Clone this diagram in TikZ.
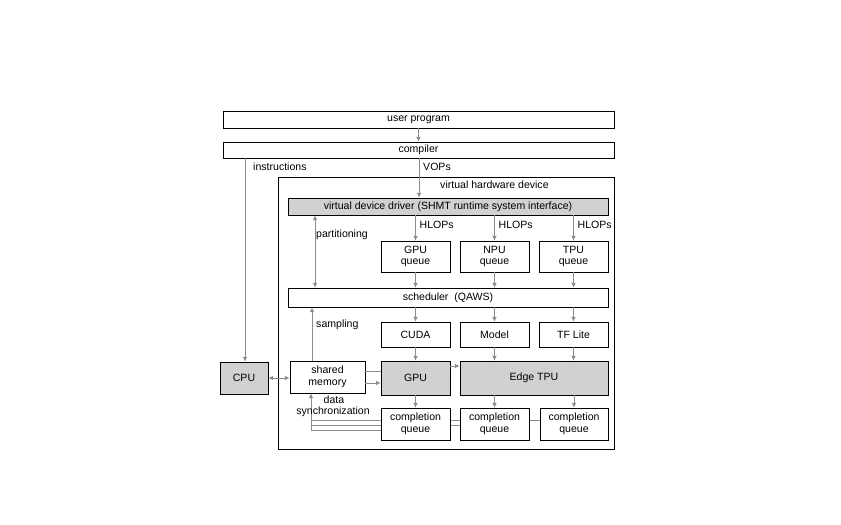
\documentclass[tikz,border=0pt]{standalone}
\usepackage{fontspec}
\setmainfont{Liberation Sans}
\usetikzlibrary{arrows.meta,calc}
\definecolor{BoxGray}{rgb}{0.82,0.82,0.82}
\definecolor{LineGray}{rgb}{0.55,0.55,0.55}

\tikzset{
  box/.style={draw=black,fill=white,line width=0.6pt,inner sep=0pt,align=center,font=\small},
  gbox/.style={box,fill=BoxGray},
  flow/.style={draw=LineGray,line width=0.8pt,-{Latex[length=4pt,width=4pt]}},
  link/.style={draw=LineGray,line width=0.8pt},
  lbl/.style={font=\small,inner sep=0pt,anchor=west}
}
\newcommand{\mkbox}[6]{% style, name, x1, y1, x2, y2 ; text via next arg
  \node[#1,minimum width={(#5-#3)*0.3mm},minimum height={(#6-#4)*0.3mm}] (#2) at ({(#3+#5)/2},{(#4+#6)/2})}

\begin{document}
\begin{tikzpicture}[x=0.3mm,y=-0.3mm]
\useasboundingbox (0,0) rectangle (841,525);

% outer device
\draw[line width=0.6pt] (278,177) rectangle (614,449);
\node[lbl] (vhd) at (440,185) {virtual hardware device};

% sync lines (behind boxes)
\coordinate (sy) at (311,420);
\draw[link] (574,420) -- (311,420);
\draw[link] (494,425) -- (311,425);
\draw[link] (416,430) -- (311,430);

\mkbox{box}{user}{223}{111}{614}{128} {user program};
\mkbox{box}{comp}{223}{142}{614}{158} {compiler};
\mkbox{gbox}{cpu}{220}{362}{268}{394} {CPU};
\mkbox{gbox}{drv}{288}{198}{608}{215} {virtual device driver (SHMT runtime system interface)};
\mkbox{box}{gq}{381}{241}{450}{272} {GPU\\[-1pt]queue};
\mkbox{box}{nq}{460}{241}{529}{272} {NPU\\[-1pt]queue};
\mkbox{box}{tq}{539}{241}{608}{272} {TPU\\[-1pt]queue};
\mkbox{box}{sch}{288}{288}{608}{307} {scheduler\ \ (QAWS)};
\mkbox{box}{cuda}{381}{322}{450}{347} {CUDA};
\mkbox{box}{model}{460}{322}{529}{347} {Model};
\mkbox{box}{tfl}{539}{322}{608}{347} {TF Lite};
\mkbox{box}{shm}{290}{361}{365}{393} {shared\\[-1pt]memory};
\mkbox{gbox}{gpu}{381}{361}{450}{395} {GPU};
\mkbox{gbox}{etpu}{460}{361}{608}{395} {Edge TPU};
\mkbox{box}{cqa}{381}{408}{450}{440} {completion\\[-1pt]queue};
\mkbox{box}{cqb}{460}{408}{529}{440} {completion\\[-1pt]queue};
\mkbox{box}{cqc}{540}{408}{608}{440} {completion\\[-1pt]queue};

% top flow
\coordinate (vx) at (419,0);
\coordinate (ix) at (245,0);
\coordinate (px) at (315,0);
\coordinate (sx) at (312,0);
\coordinate (dx) at (311,0);
\draw[flow] (user.south) -- (comp.north);
\draw[flow] (comp.south -| vx) -- (drv.north -| vx);
\node[lbl] (vops) at (423,167) {VOPs};
\draw[flow] (comp.south -| ix) -- (cpu.north -| ix);
\node[lbl] (instr) at (253,167) {instructions};

% HLOPs
\foreach \q in {gq,nq,tq}{
  \draw[flow] (drv.south -| \q) -- (\q.north);
  \node[lbl] at ($(drv.south -| \q)+(4,10)$) {HLOPs};
  \draw[flow] (\q.south) -- (sch.north -| \q);
}
\draw[flow] (sch.south -| cuda) -- (cuda.north);
\draw[flow] (sch.south -| model) -- (model.north);
\draw[flow] (sch.south -| tfl) -- (tfl.north);
\draw[flow] (cuda) -- (gpu);
\draw[flow] (model.south) -- (etpu.north -| model);
\draw[flow] (tfl.south) -- (etpu.north -| tfl);
\coordinate (ya) at (0,366);
\coordinate (yb) at (0,371);
\coordinate (yc) at (0,383);
\coordinate (yd) at (0,378);
\draw[flow] (gpu.east |- ya) -- (etpu.west |- ya);
\draw[flow] (gpu.south) -- (cqa.north);
\draw[flow] (etpu.south -| cqb) -- (cqb.north);
\draw[flow] (etpu.south -| cqc) -- (cqc.north);

% left side
\draw[flow,{Latex[length=4pt,width=4pt]}-{Latex[length=4pt,width=4pt]}] (drv.south -| px) -- (sch.north -| px);
\node[lbl] (part) at (316,235) {partitioning};
\draw[flow] (shm.north -| sx) -- (sch.south -| sx);
\node[lbl] (samp) at (316,325) {sampling};
\draw[flow,{Latex[length=4pt,width=4pt]}-{Latex[length=4pt,width=4pt]}] (cpu.east |- yd) -- (shm.west |- yd);
\draw[link] (shm.east |- yb) -- (gpu.west |- yb);
\draw[flow] (shm.east |- yc) -- (gpu.west |- yc);
\draw[flow] (311,430) -- (shm.south -| dx);
\node[font=\small,inner sep=0pt] (dat) at (334,400) {data};
\node[font=\small,inner sep=0pt] (sync) at (333,412) {synchronization};
\end{tikzpicture}
\end{document}
